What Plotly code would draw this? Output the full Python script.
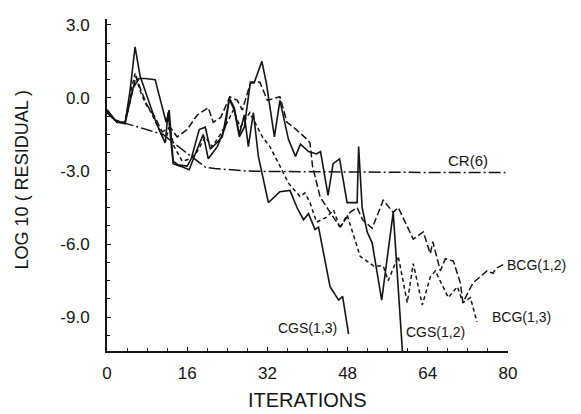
import plotly.graph_objects as go

# ---- data (iteration, log10 residual) ----
cr6_x = [0, 1, 2, 3.6, 6, 8.2, 11.2, 13, 15.2, 17.5, 19.6, 21.5, 23, 25, 27.9, 32, 40, 48, 56, 64, 72, 79.5]
cr6_y = [-0.5, -0.8, -0.95, -1.03, -1.18, -1.32, -1.5, -1.8, -2.14, -2.5, -2.84, -2.9, -2.93, -2.96, -3.0, -3.02, -3.04, -3.05, -3.05, -3.06, -3.06, -3.06]

cgs13_x = [0, 1.5, 3.6, 4.6, 5.6, 6.6, 7.6, 8.6, 9.6, 10.6, 11.6, 12.2, 13.2, 14.6, 16.4, 17.6, 19.2, 20.2,
           22.0, 23.6, 24.4, 25.4, 26.4, 27.4, 28.2, 29.2, 30.2, 32.2, 34.5, 36.5, 37.9, 39.2, 40.2, 41.5,
           42.2, 44.5, 46.2, 47.0, 48.2]
cgs13_y = [-0.5, -0.9, -1.05, 0.3, 2.1, 0.9, 0.3, -0.3, -0.9, -1.4, -1.85, -0.6, -2.7, -2.8, -2.95, -2.3, -1.5, -2.5,
           -2.0, -1.2, 0.0, -0.4, -1.5, -0.7, -2.0, -0.6, -2.4, -4.3, -3.85, -3.8, -4.5, -5.0, -4.75, -5.4,
           -5.3, -7.75, -8.3, -8.15, -9.7]

cgs12_x = [0, 2, 3.6, 5.2, 6.4, 7.6, 9.6, 10.6, 11.8, 12.4, 13.2, 14.2, 16.0, 16.8, 18.4, 19.6, 20.6, 21.6,
           23.0, 24.4, 25.4, 26.4, 27.4, 28.6, 29.4, 30.9, 31.8, 33.4, 34.5, 36.2, 37.6, 38.6, 40.2, 41.8,
           42.6, 44.1, 45.1, 46.4, 47.9, 49.9, 50.2, 50.9, 51.9, 52.9, 54.8, 57.1, 59.0]
cgs12_y = [-0.6, -1.0, -1.05, 0.4, 0.8, 0.8, 0.75, -0.1, -1.0, -0.5, -2.6, -2.75, -2.8, -2.5, -1.3, -1.2, -2.1, -1.9,
           -1.6, -0.05, -0.5, -1.6, -1.2, 0.65, 0.65, 1.5, 0.6, -1.6, -0.1, -1.7, -2.4, -1.9, -2.2, -2.3,
           -2.2, -4.0, -2.7, -2.5, -4.3, -4.3, -2.0, -4.5, -5.5, -5.95, -8.3, -4.7, -10.6]

bcg12_x = [0, 2, 3.6, 5.0, 5.8, 6.8, 8.0, 9.6, 11.0, 12.6, 14.0, 16.0, 18.0, 20.2, 21.2, 22.7, 24.5, 26.0,
           27.0, 28.6, 30.5, 32.0, 34.5, 35.9, 37.2, 39.9, 40.5, 41.0, 42.5, 44.5, 46.5, 48.5, 49.9, 51.0,
           52.9, 55.1, 57.1, 58.1, 61.1, 63.1, 64.5, 65.0, 66.5, 67.5, 69.1, 70.5, 71.0, 73.0, 75.8, 77.0,
           77.6, 79.4]
bcg12_y = [-0.5, -1.0, -1.0, 0.2, 0.9, 0.3, -0.3, -0.8, -1.4, -1.2, -1.6, -1.3, -0.7, -0.4, -1.0, -0.8, 0.05, -0.1,
           -0.5, 0.6, 0.65, -0.1, 0.05, -1.0, -1.2, -1.7, -1.85, -2.8, -4.05, -4.7, -5.3, -4.7, -4.5, -5.0,
           -5.35, -4.2, -4.7, -4.5, -5.8, -5.5, -6.4, -5.9, -7.1, -6.6, -6.7, -7.6, -8.4, -7.6, -7.1, -7.2,
           -7.0, -6.8]

bcg13_x = [0, 2, 3.6, 4.8, 5.6, 6.6, 7.6, 8.8, 10.2, 11.6, 12.4, 13.4, 15.0, 16.6, 18.0, 19.6, 21.0, 22.6,
           24.0, 25.2, 26.6, 27.8, 28.5, 31.0, 32.5, 34.5, 36.2, 38.5, 39.5, 40.5, 41.8, 43.8, 45.2, 46.5,
           47.9, 50.5, 53.2, 55.1, 56.1, 58.1, 59.9, 61.1, 62.9, 64.5, 65.5, 68.1, 69.9, 71.0, 72.5, 73.8]
bcg13_y = [-0.5, -1.0, -1.0, 0.3, 1.0, 0.3, -0.2, -0.6, -1.2, -1.8, -1.2, -2.0, -2.6, -2.5, -2.2, -1.6, -2.0, -1.5,
           -1.0, -0.5, -1.2, -0.8, -0.6, -1.6, -2.0, -2.8, -3.5, -4.05, -3.9, -4.3, -5.1, -4.9, -4.6, -5.35,
           -4.8, -6.5, -6.9, -6.9, -7.5, -6.5, -8.4, -6.8, -8.5, -7.35, -7.1, -8.2, -7.75, -8.4, -8.2, -9.2]

y_tickvals = [3, 0, -3, -6, -9]
y_ticktext = ["3.0", "0.0", "-3.0", "-6.0", "-9.0"]
x_tickvals = [0, 16, 32, 48, 64, 80]

labels = [
    ("CR(6)", 72.0, -2.55, "center", 15),
    ("CGS(1,3)", 39.9, -9.44, "center", 14),
    ("CGS(1,2)", 65.6, -9.6, "center", 14),
    ("BCG(1,3)", 76.4, -9.0, "left", 14),
    ("BCG(1,2)", 79.4, -6.86, "left", 14),
]

INK = "#141414"
FONT = "Liberation Sans, Arial, sans-serif"

fig = go.Figure()
fig.add_trace(go.Scatter(x=cr6_x, y=cr6_y, mode="lines", name="CR(6)",
                         line=dict(color=INK, width=1.5, dash="12px,3px,2px,3px")))
fig.add_trace(go.Scatter(x=bcg12_x, y=bcg12_y, mode="lines", name="BCG(1,2)",
                         line=dict(color=INK, width=1.5, dash="7px,3px")))
fig.add_trace(go.Scatter(x=bcg13_x, y=bcg13_y, mode="lines", name="BCG(1,3)",
                         line=dict(color=INK, width=1.5, dash="4px,3px")))
fig.add_trace(go.Scatter(x=cgs12_x, y=cgs12_y, mode="lines", name="CGS(1,2)",
                         line=dict(color=INK, width=1.6)))
fig.add_trace(go.Scatter(x=cgs13_x, y=cgs13_y, mode="lines", name="CGS(1,3)",
                         line=dict(color=INK, width=1.6)))

for text, lx, ly, anchor, fs in labels:
    fig.add_annotation(x=lx, y=ly, xref="x", yref="y", text=text, showarrow=False,
                       xanchor=anchor, yanchor="middle",
                       font=dict(family=FONT, size=fs, color=INK))

# axis titles placed as annotations
fig.add_annotation(x=0.5, y=-0.148, xref="paper", yref="paper", text="ITERATIONS",
                   showarrow=False, xanchor="center", yanchor="middle",
                   font=dict(family=FONT, size=20, color=INK))
fig.add_annotation(x=-0.211, y=0.515, xref="paper", yref="paper", text="LOG 10 ( RESIDUAL )",
                   showarrow=False, textangle=-90, xanchor="center", yanchor="middle",
                   font=dict(family=FONT, size=18, color=INK))

fig.update_layout(
    width=581, height=414,
    margin=dict(l=107, r=73, t=19, b=63),
    paper_bgcolor="white", plot_bgcolor="white",
    showlegend=False,
    font=dict(family=FONT, color=INK),
)
fig.update_xaxes(range=[0, 80], tickmode="array", tickvals=x_tickvals,
                 ticktext=[str(v) for v in x_tickvals],
                 showgrid=False, zeroline=False, showline=True, linecolor=INK, linewidth=2,
                 ticks="inside", ticklen=4, tickcolor=INK,
                 minor=dict(ticks="inside", dtick=4, ticklen=3, tickcolor=INK, showgrid=False),
                 tickfont=dict(family=FONT, size=17, color=INK), ticklabelstandoff=6)
fig.update_yaxes(range=[-10.39, 3.24], tickmode="array", tickvals=y_tickvals, ticktext=y_ticktext,
                 showgrid=False, zeroline=False, showline=True, linecolor=INK, linewidth=2,
                 ticks="inside", ticklen=4, tickcolor=INK,
                 minor=dict(ticks="inside", dtick=0.75, tick0=0, ticklen=3, tickcolor=INK, showgrid=False),
                 tickfont=dict(family=FONT, size=17, color=INK), ticklabelstandoff=12)

fig.write_html("out.html")
